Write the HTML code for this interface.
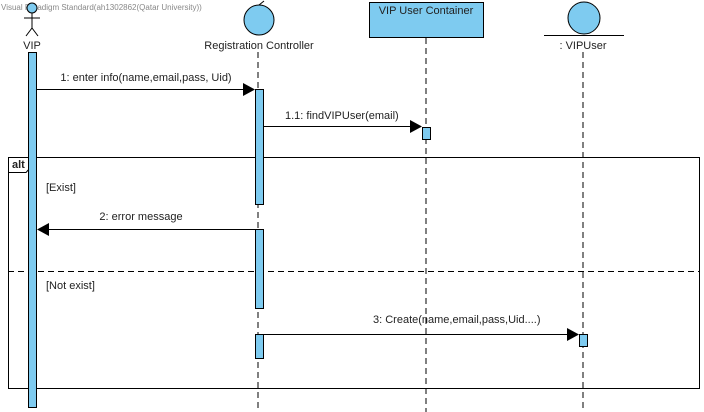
<!DOCTYPE html>
<html><head><style>body{margin:0;background:#fff}svg{display:block}text{font-family:"Liberation Sans",sans-serif;font-size:11px;fill:#222}</style></head><body>
<svg width="704" height="412" xmlns="http://www.w3.org/2000/svg">
<text x="1" y="10" style="font-size:8px;fill:#888">Visual Paradigm Standard(ah1302862(Qatar University))</text>
<!-- actor -->
<circle cx="32" cy="8" r="5" fill="#7ecbf0" stroke="#000"/>
<line x1="32" y1="13" x2="32" y2="28" stroke="#000"/>
<line x1="24" y1="18" x2="40" y2="18" stroke="#000"/>
<line x1="32" y1="28" x2="26" y2="36" stroke="#000"/>
<line x1="32" y1="28" x2="38" y2="36" stroke="#000"/>
<text x="32" y="49" text-anchor="middle">VIP</text>
<!-- lifelines -->
<g stroke="#000" stroke-dasharray="6,4">
<line x1="258" y1="52" x2="258" y2="412"/>
<line x1="426" y1="38" x2="426" y2="412"/>
<line x1="583" y1="52" x2="583" y2="412"/>
</g>
<!-- controller -->
<circle cx="259" cy="20" r="15" fill="#7ecbf0" stroke="#000"/>
<line x1="259" y1="5" x2="264" y2="1" stroke="#000"/>
<text x="259" y="49" text-anchor="middle">Registration Controller</text>
<!-- container -->
<rect x="369.5" y="2.5" width="114" height="35" fill="#7ecbf0" stroke="#000"/>
<text x="426" y="14" text-anchor="middle">VIP User Container</text>
<!-- entity -->
<circle cx="584" cy="18" r="16" fill="#7ecbf0" stroke="#000"/>
<line x1="544" y1="35.5" x2="624" y2="35.5" stroke="#000"/>
<text x="583" y="49" text-anchor="middle">: VIPUser</text>
<!-- alt frame -->
<rect x="8.5" y="157.5" width="691" height="231" fill="none" stroke="#000"/>
<path d="M8.5 172.5 H26 L30 168 V157.5" fill="#fff" stroke="#000"/>
<text x="12" y="168" style="font-weight:bold">alt</text>
<line x1="8" y1="271.5" x2="700" y2="271.5" stroke="#000" stroke-dasharray="6,4"/>
<text x="46" y="191">[Exist]</text>
<text x="46" y="289">[Not exist]</text>
<!-- activations -->
<g fill="#7ecbf0" stroke="#000">
<rect x="28.5" y="52.5" width="8" height="355"/>
<rect x="255.5" y="89.5" width="8" height="115"/>
<rect x="255.5" y="229.5" width="8" height="79"/>
<rect x="255.5" y="334.5" width="8" height="24"/>
<rect x="422.5" y="127.5" width="8" height="12"/>
<rect x="579.5" y="334.5" width="8" height="12"/>
</g>
<!-- messages -->
<g stroke="#000">
<line x1="37" y1="89.5" x2="244" y2="89.5"/>
<line x1="264" y1="126.5" x2="411" y2="126.5"/>
<line x1="47" y1="229.5" x2="255" y2="229.5"/>
<line x1="264" y1="334.5" x2="568" y2="334.5"/>
</g>
<g fill="#000">
<polygon points="243,83 255,89.5 243,96"/>
<polygon points="410,120 422,126.5 410,133"/>
<polygon points="49,223 37,229.5 49,236"/>
<polygon points="567,328 579,334.5 567,341"/>
</g>
<text x="146" y="81" text-anchor="middle">1: enter info(name,email,pass, Uid)</text>
<text x="285" y="119">1.1: findVIPUser(email)</text>
<text x="141" y="220" text-anchor="middle">2: error message</text>
<text x="373" y="323">3: Create(name,email,pass,Uid....)</text>
</svg>
</body></html>
